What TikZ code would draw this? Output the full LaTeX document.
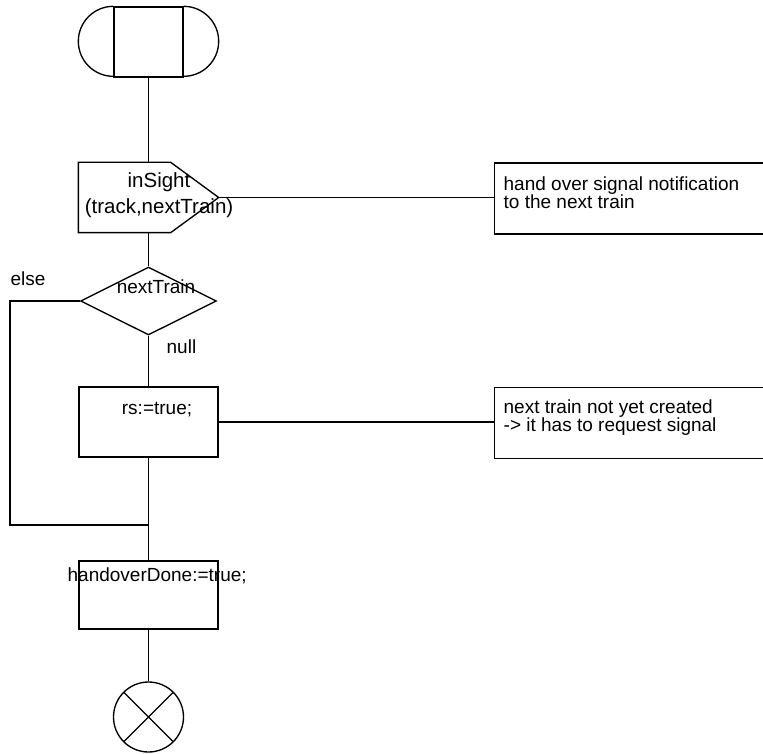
\documentclass[tikz,border=0pt]{standalone}
\usepackage{fontspec}
\setmainfont{Liberation Sans}
\usetikzlibrary{calc,shapes.geometric}
\newcommand\sdlfont{\fontsize{19}{18}\selectfont}
\tikzset{sdl/.style={draw,line width=1.35pt,inner sep=0pt},
  taskbox/.style={sdl,rectangle,minimum width=139pt,minimum height=70pt},
  notebox/.style={sdl,rectangle,minimum width=300pt,minimum height=71pt,anchor=west},
  txt/.style={font=\sdlfont,inner sep=0pt}}

\begin{document}
\begin{tikzpicture}[x=1pt,y=-1pt,line width=1.35pt,
  cross/.style={path picture={\draw[line width=1.35pt] (path picture bounding box.north west)--(path picture bounding box.south east)
     (path picture bounding box.north east)--(path picture bounding box.south west);}}]
\useasboundingbox (0,0) rectangle (763,754);
\clip (0,0) rectangle (763,754);
\node[sdl,minimum width=69pt,minimum height=70pt] (start) at (148.5,42) {};
\draw (start.north west) arc[start angle=90,end angle=270,radius=35pt];
\draw (start.north east) arc[start angle=90,end angle=-90,radius=35pt];
\node[inner sep=0pt,minimum width=139pt,minimum height=69pt] (insight) at (148.5,197.5) {};
\draw (insight.north west) -- ($(insight.north east)+(-48,0)$) -- (insight.east)
  -- ($(insight.south east)+(-48,0)$) -- (insight.south west) -- cycle;
\node[txt,font=\fontsize{20.5}{18}\selectfont,align=center,anchor=north] (insighttxt) at (159,172) {inSight\\[6pt](track,nextTrain)};
\node[sdl,diamond,minimum width=136pt,minimum height=68pt] (dec) at (148.5,301) {};
\node[txt,anchor=base] (dectxt) at (156,293) {nextTrain};
\node[txt,anchor=base west] (elsetxt) at (10,285) {else};
\node[txt,anchor=base west] (nulltxt) at (166,353) {null};
\node[taskbox] (rs) at (148.5,422) {};
\node[txt,anchor=base] (rstxt) at (157,414) {rs:=true;};
\node[taskbox,minimum height=68pt] (hd) at (148.5,595) {};
\node[txt,anchor=base west] (hdtxt) at (67,581) {handoverDone:=true;};
\node[sdl,circle,minimum size=70pt,cross] (stop) at (148.5,717) {};
\node[notebox] (note1) at (494,198.5) {};
\node[txt,align=left,anchor=north west] (note1txt) at (503,176) {hand over signal notification\\to the next train};
\node[notebox] (note2) at (494,423) {};
\node[txt,align=left,anchor=north west] (note2txt) at (503,399) {next train not yet created\\-> it has to request signal};
\coordinate (join) at (148.5,525);
\coordinate (elsebend) at (10,525);
\draw (start) -- (insight);
\draw (insight.east) -- (insight.east -| note1.west);
\draw (insight) -- (dec);
\draw (dec) -- (rs);
\draw (rs.east) -- (rs.east -| note2.west);
\draw (rs) -- (hd);
\draw (hd) -- (stop);
\draw (dec.west) -| (elsebend) -- (join);
\end{tikzpicture}
\end{document}
